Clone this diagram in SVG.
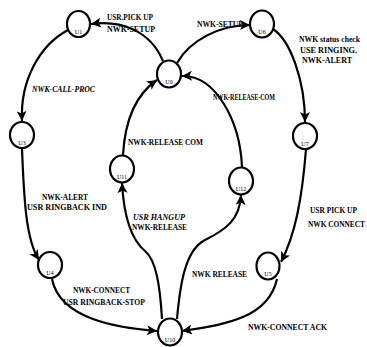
<svg xmlns="http://www.w3.org/2000/svg" width="367" height="347" viewBox="0 0 367 347">
<style>
.n{fill:#fff;stroke:#000;stroke-width:2.2}
.e{fill:none;stroke:#000;stroke-width:2.2}
.t{font-family:"Liberation Serif","Times New Roman",serif;font-size:7.5px;font-weight:bold;fill:#000}
.i{font-style:italic}
.l{font-family:"Liberation Serif","Times New Roman",serif;font-size:6px;fill:#000;text-anchor:middle}
</style>
<defs>
<marker id="a" markerUnits="userSpaceOnUse" markerWidth="12" markerHeight="10" refX="10" refY="5" orient="auto">
<path d="M0,0 L10,5 L0,10 L2.5,5 Z" fill="#000"/>
</marker>
</defs>
<rect width="367" height="347" fill="#fff"/>
<g id="connectors">
<path class="e" marker-end="url(#a)" d="M163,61 C150,30 120,20 91,24"/>
<path class="e" marker-end="url(#a)" d="M177,63 C190,40 220,25 250,25"/>
<path class="e" marker-end="url(#a)" d="M68,30 C40,45 20,80 22,121"/>
<path class="e" marker-end="url(#a)" d="M22,149 C24,200 26,240 39,260"/>
<path class="e" marker-end="url(#a)" d="M52,279 C60,320 120,328 157,331"/>
<path class="e" marker-end="url(#a)" d="M273,29 C290,40 305,80 305,122"/>
<path class="e" marker-end="url(#a)" d="M306,149 C302,200 295,235 281,262"/>
<path class="e" marker-end="url(#a)" d="M277,279 C268,320 220,325 182,331"/>
<path class="e" marker-end="url(#a)" d="M162,319 C160,285 156,260 145,251 C133,241 124,220 122,183"/>
<path class="e" marker-end="url(#a)" d="M123,155 C125,120 135,95 157,80"/>
<path class="e" marker-end="url(#a)" d="M177,319 C180,285 185,250 205,240 C225,230 240,220 241,195"/>
<path class="e" marker-end="url(#a)" d="M242,167 C240,120 215,75 182,76"/>
</g>
<g id="U1"><ellipse class="n" cx="78.5" cy="24" rx="11.5" ry="13"/><text class="l" x="78.5" y="34">U1</text></g>
<g id="U0"><ellipse class="n" cx="169" cy="74" rx="12" ry="13.5"/><text class="l" x="169" y="84">U0</text></g>
<g id="U6"><ellipse class="n" cx="262" cy="24" rx="12" ry="13.5"/><text class="l" x="262" y="34">U6</text></g>
<g id="U3"><ellipse class="n" cx="22" cy="135" rx="12" ry="13"/><text class="l" x="22" y="145">U3</text></g>
<g id="U11"><ellipse class="n" cx="122" cy="169" rx="12" ry="13.5"/><text class="l" x="122" y="179">U11</text></g>
<g id="U12"><ellipse class="n" cx="241" cy="181" rx="12" ry="13.5"/><text class="l" x="241" y="191">U12</text></g>
<g id="U7"><ellipse class="n" cx="305" cy="136" rx="12" ry="13"/><text class="l" x="305" y="146">U7</text></g>
<g id="U4"><ellipse class="n" cx="50" cy="265" rx="12" ry="13"/><text class="l" x="50" y="275">U4</text></g>
<g id="U10"><ellipse class="n" cx="170" cy="332" rx="12" ry="13.5"/><text class="l" x="170" y="342">U10</text></g>
<g id="U5"><ellipse class="n" cx="268" cy="266" rx="11.5" ry="13.5"/><text class="l" x="268" y="276">U5</text></g>
<g id="labels">
<text class="t" x="107" y="20" textLength="46" lengthAdjust="spacingAndGlyphs">USR.PICK UP</text>
<text class="t" x="107" y="32" textLength="48" lengthAdjust="spacingAndGlyphs">NWK-SETUP</text>
<text class="t" x="197" y="27" textLength="46" lengthAdjust="spacingAndGlyphs">NWK-SETUP</text>
<text class="t i" x="32" y="92" textLength="63" lengthAdjust="spacingAndGlyphs">NWK-CALL-PROC</text>
<text class="t" x="299" y="42" textLength="61" lengthAdjust="spacingAndGlyphs">NWK status check</text>
<text class="t" x="300" y="53" textLength="57" lengthAdjust="spacingAndGlyphs">USE RINGING.</text>
<text class="t" x="302" y="63" textLength="50" lengthAdjust="spacingAndGlyphs">NWK-ALERT</text>
<text class="t" x="213" y="100" textLength="62" lengthAdjust="spacingAndGlyphs">NWK-RELEASE-COM</text>
<text class="t" x="128" y="145" textLength="75" lengthAdjust="spacingAndGlyphs">NWK-RELEASE COM</text>
<text class="t" x="42" y="200" textLength="46" lengthAdjust="spacingAndGlyphs">NWK-ALERT</text>
<text class="t" x="27" y="210" textLength="80" lengthAdjust="spacingAndGlyphs">USR RINGBACK IND</text>
<text class="t i" x="133" y="220" textLength="52" lengthAdjust="spacingAndGlyphs">USR HANGUP</text>
<text class="t" x="132" y="230" textLength="55" lengthAdjust="spacingAndGlyphs">NWK-RELEASE</text>
<text class="t" x="310" y="213" textLength="47" lengthAdjust="spacingAndGlyphs">USR PICK UP</text>
<text class="t" x="308" y="227" textLength="57" lengthAdjust="spacingAndGlyphs">NWK CONNECT</text>
<text class="t" x="192" y="277" textLength="55" lengthAdjust="spacingAndGlyphs">NWK RELEASE</text>
<text class="t" x="73" y="293" textLength="57" lengthAdjust="spacingAndGlyphs">NWK-CONNECT</text>
<text class="t" x="63" y="305" textLength="82" lengthAdjust="spacingAndGlyphs">USR RINGBACK-STOP</text>
<text class="t" x="248" y="330" textLength="79" lengthAdjust="spacingAndGlyphs">NWK-CONNECT ACK</text>
</g>
</svg>
